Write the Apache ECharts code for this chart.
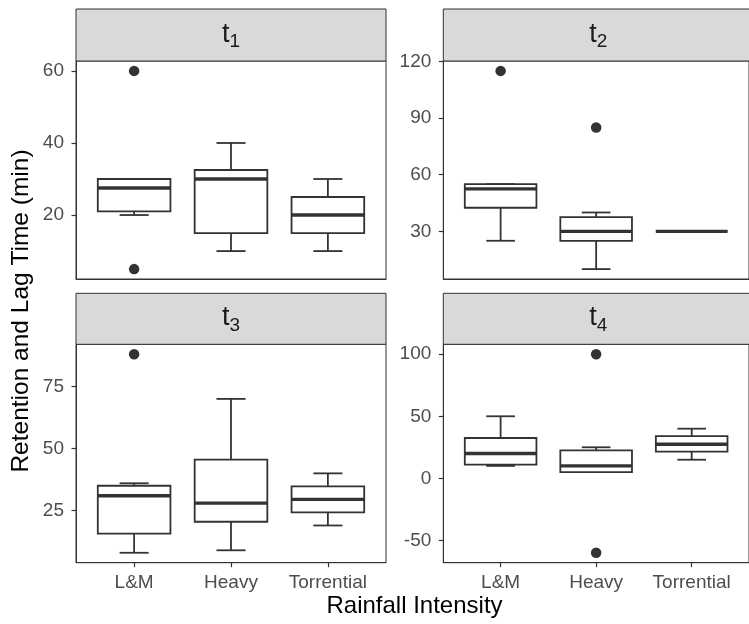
<!DOCTYPE html>
<html><head><meta charset="utf-8">
<script src="https://cdn.jsdelivr.net/npm/echarts@6/dist/echarts.min.js"></script>
<style>html,body{margin:0;padding:0;background:#fff}#c{width:749px;height:624px}</style>
</head><body><div id="c"></div>
<script>
const categories = ['L&M', 'Heavy', 'Torrential'];
const facetSubs = ['1', '2', '3', '4'];
// [lower whisker, Q1, median, Q3, upper whisker] per category
const t1Stats = [[20, 21, 27.5, 30, 30], [10, 15, 30, 32.5, 40], [10, 15, 20, 25, 30]];
const t2Stats = [[25, 42.5, 52.5, 55, 55], [10, 25, 30, 37.5, 40], [30, 30, 30, 30, 30]];
const t3Stats = [[8, 15.75, 31, 35, 36], [9, 20.5, 28, 45.5, 70], [19, 24.25, 29.5, 34.75, 40]];
const t4Stats = [[10, 11, 20, 32.5, 50], [5, 5, 10, 22.5, 25], [15, 21.5, 27.5, 34, 40]];
// outliers: [category position (1-based), value]
const t1Outliers = [[1, 60], [1, 5]];
const t2Outliers = [[1, 115], [2, 85]];
const t3Outliers = [[1, 88]];
const t4Outliers = [[2, 100], [2, -60]];
const t1Ticks = [20, 40, 60];
const t2Ticks = [30, 60, 90, 120];
const t3Ticks = [25, 50, 75];
const t4Ticks = [-50, 0, 50, 100];
const xTitle = 'Rainfall Intensity';
const yTitle = 'Retention and Lag Time (min)';

const stats = [t1Stats, t2Stats, t3Stats, t4Stats];
const outs = [t1Outliers, t2Outliers, t3Outliers, t4Outliers];
const ticks = [t1Ticks, t2Ticks, t3Ticks, t4Ticks];

const FONT = 'Liberation Sans, Arial, sans-serif';
const lefts = [76, 443.3, 76, 443.3];
const W = 310;
const stripTops = [9, 9, 293.3, 293.3];
const gridTops = [61, 61, 344.3, 344.3];
const gridHs = [218, 218, 218.4, 218.4];

function yRange(i) {
  let vals = [];
  stats[i].forEach(s => vals.push(...s));
  outs[i].forEach(o => vals.push(o[1]));
  const lo = Math.min(...vals), hi = Math.max(...vals);
  const pad = (hi - lo) * 0.05;
  return [lo - pad, hi + pad];
}

function renderBox(params, api) {
  const x = api.value(0);
  const band = api.size([1, 0])[0];
  const bw = band * 0.75, cw = band * 0.3;
  const pMin = api.coord([x, api.value(1)]);
  const pQ1 = api.coord([x, api.value(2)]);
  const pMed = api.coord([x, api.value(3)]);
  const pQ3 = api.coord([x, api.value(4)]);
  const pMax = api.coord([x, api.value(5)]);
  const cx = pQ1[0];
  const ls = {stroke: '#333333', lineWidth: 1.8, fill: 'none'};
  return {type: 'group', children: [
    {type: 'line', shape: {x1: cx, y1: pMin[1], x2: cx, y2: pQ1[1]}, style: ls},
    {type: 'line', shape: {x1: cx, y1: pQ3[1], x2: cx, y2: pMax[1]}, style: ls},
    {type: 'line', shape: {x1: cx - cw / 2, y1: pMin[1], x2: cx + cw / 2, y2: pMin[1]}, style: ls},
    {type: 'line', shape: {x1: cx - cw / 2, y1: pMax[1], x2: cx + cw / 2, y2: pMax[1]}, style: ls},
    {type: 'rect', shape: {x: cx - bw / 2, y: pQ3[1], width: bw, height: pQ1[1] - pQ3[1]}, style: {stroke: '#333333', lineWidth: 1.8, fill: '#ffffff'}},
    {type: 'line', shape: {x1: cx - bw / 2, y1: pMed[1], x2: cx + bw / 2, y2: pMed[1]}, style: {stroke: '#333333', lineWidth: 3.4}}
  ]};
}

const grids = [], xAxes = [], yAxes = [], series = [], graphics = [];
for (let i = 0; i < 4; i++) {
  const bottom = i >= 2;
  grids.push({left: lefts[i], top: gridTops[i], width: W, height: gridHs[i], show: true,
    borderColor: '#333333', borderWidth: 1, backgroundColor: '#ffffff', containLabel: false});
  xAxes.push({type: 'value', gridIndex: i, min: 0.4, max: 3.6,
    axisLine: {show: true, onZero: false, lineStyle: {color: '#333333', width: 1}},
    splitLine: {show: false},
    axisTick: {show: bottom, customValues: [1, 2, 3], length: 4.5, lineStyle: {color: '#333333', width: 1.2}},
    axisLabel: {show: bottom, customValues: [1, 2, 3], formatter: v => categories[Math.round(v) - 1],
      fontSize: 19, color: '#4d4d4d', margin: 11, fontFamily: FONT}});
  const r = yRange(i);
  yAxes.push({type: 'value', gridIndex: i, min: r[0], max: r[1],
    axisLine: {show: true, onZero: false, lineStyle: {color: '#333333', width: 1}},
    splitLine: {show: false},
    axisTick: {show: true, customValues: ticks[i], length: 4.5, lineStyle: {color: '#333333', width: 1.2}},
    axisLabel: {show: true, customValues: ticks[i], fontSize: 19, color: '#4d4d4d', margin: 12, fontFamily: FONT}});
  series.push({type: 'custom', xAxisIndex: i, yAxisIndex: i, renderItem: renderBox,
    encode: {x: 0, y: [1, 2, 3, 4, 5]},
    data: stats[i].map((s, k) => [k + 1, ...s]), z: 2});
  series.push({type: 'scatter', xAxisIndex: i, yAxisIndex: i, data: outs[i], symbolSize: 10.5,
    itemStyle: {color: '#333333', opacity: 1}, z: 3});
  graphics.push({type: 'rect', shape: {x: lefts[i], y: stripTops[i], width: W, height: gridTops[i] - stripTops[i]},
    style: {fill: '#d9d9d9', stroke: '#333333', lineWidth: 1}, z: 1});
  graphics.push({type: 'text', x: lefts[i] + W / 2, y: (stripTops[i] + gridTops[i]) / 2 + 1, z: 5,
    style: {text: '{m|t}{s|' + facetSubs[i] + '}', align: 'center', verticalAlign: 'middle',
      rich: {
        m: {fontSize: 27, fontFamily: FONT, fill: '#1a1a1a', verticalAlign: 'top', lineHeight: 27},
        s: {fontSize: 19, fontFamily: FONT, fill: '#1a1a1a', verticalAlign: 'bottom', lineHeight: 30.6}
      }}});
}
graphics.push({type: 'text', x: 414.5, y: 606, z: 5,
  style: {text: xTitle, fontSize: 24, fontFamily: FONT, fill: '#000000', align: 'center', verticalAlign: 'middle'}});
graphics.push({type: 'text', x: 21, y: 311, rotation: Math.PI / 2, z: 5,
  style: {text: yTitle, fontSize: 24.5, fontFamily: FONT, fill: '#000000', align: 'center', verticalAlign: 'middle'}});

const chart = echarts.init(document.getElementById('c'), null, {renderer: 'canvas'});
chart.setOption({
  animation: false,
  backgroundColor: '#ffffff',
  grid: grids, xAxis: xAxes, yAxis: yAxes, series: series, graphic: graphics
});
</script></body></html>
